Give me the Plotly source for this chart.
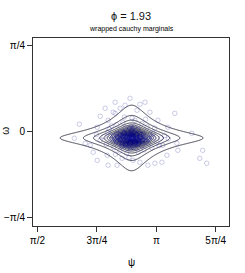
import numpy as np
import plotly.graph_objects as go

# ---- data ----
title_text = "ϕ = 1.93"
subtitle_text = "wrapped cauchy marginals"
x_title = "ψ"
y_title = "ω"

x_tick_vals = [np.pi/2, 3*np.pi/4, np.pi, 5*np.pi/4]
x_tick_text = ["π/2", "3π/4", "π", "5π/4"]
y_tick_vals = [-np.pi/4, 0, np.pi/4]
y_tick_text = ["−π/4", "0", "π/4"]

# density model parameters (wrapped Cauchy marginals)
mu_psi, rho_psi = 2.815, 0.815
mu_omega, rho_omega = -0.061, 0.935
n_levels = 20.7

core_psi = [
    2.81, 2.79, 2.84, 2.77, 2.86, 2.82, 2.75, 2.88, 2.80, 2.83,
    2.71, 2.90, 2.78, 2.85, 2.69, 2.93, 2.74, 2.87, 2.82, 2.79,
    2.66, 2.96, 2.72, 2.89, 2.80, 2.84, 2.63, 2.99, 2.76, 2.86,
    2.81, 2.78, 2.83, 2.70, 2.92, 2.60, 3.02, 2.73, 2.88, 2.81,
    2.77, 2.85, 2.68, 2.95, 2.57, 3.05, 2.80, 2.82, 2.74, 2.90,
    2.83, 2.76, 2.87, 2.79, 2.64, 2.97, 2.71, 2.91, 2.55, 3.08,
    2.81, 2.84, 2.78, 2.86, 2.75, 2.88, 2.67, 2.94, 2.62, 3.00,
    2.80, 2.83, 2.77, 2.85, 2.73, 2.89, 2.69, 2.92, 2.58, 3.03,
    2.61, 2.65, 2.70, 2.74, 2.79, 2.84, 2.88, 2.93, 2.97, 3.01,
    2.59, 2.64, 2.68, 2.73, 2.78, 2.82, 2.87, 2.91, 2.96, 3.04,
    2.62, 2.67, 2.72, 2.76, 2.81, 2.86, 2.90, 2.95, 2.99, 3.06,
    2.53, 2.57, 2.66, 2.71, 2.77, 2.83, 2.89, 2.94, 3.03, 3.10,
    2.64, 2.69, 2.75, 2.80, 2.85, 2.91, 2.96, 2.72, 2.87, 2.79,
    2.68, 2.74, 2.80, 2.86, 2.92, 2.77, 2.83, 2.70, 2.89, 2.81,
    2.63, 2.67, 2.71, 2.74, 2.78, 2.81, 2.84, 2.88, 2.91, 2.95,
    2.65, 2.69, 2.73, 2.76, 2.80, 2.83, 2.87, 2.90, 2.94, 2.98,
    2.62, 2.66, 2.70, 2.75, 2.79, 2.82, 2.85, 2.89, 2.93, 2.97,
    2.68, 2.72, 2.76, 2.79, 2.82, 2.85, 2.88, 2.92, 2.71, 2.86,
    2.61, 2.69, 2.77, 2.80, 2.84, 2.90, 2.96, 2.74, 2.83, 2.78,
    2.66, 2.73, 2.79, 2.81, 2.87, 2.93, 2.75, 2.82, 2.70, 2.88]
core_omega = [
    -0.06, -0.05, -0.07, -0.04, -0.08, -0.03, -0.06, -0.05, -0.09, -0.02,
    -0.06, -0.07, -0.08, -0.04, -0.05, -0.06, -0.02, -0.10, -0.06, -0.07,
    -0.04, -0.08, -0.09, -0.03, -0.11, -0.01, -0.06, -0.05, -0.12, -0.10,
    0.00, -0.03, -0.13, -0.08, -0.02, -0.07, -0.06, -0.11, -0.12, -0.04,
    -0.01, -0.09, -0.10, -0.09, -0.05, -0.07, -0.14, 0.01, -0.04, -0.11,
    -0.06, -0.08, -0.05, -0.10, -0.08, -0.04, -0.02, -0.08, -0.07, -0.05,
    -0.07, -0.06, -0.05, -0.07, -0.09, -0.06, -0.06, -0.03, -0.09, -0.10,
    -0.08, -0.04, -0.07, -0.09, -0.05, -0.08, -0.12, -0.05, -0.04, -0.08,
    -0.03, -0.11, -0.01, -0.13, 0.02, -0.15, 0.01, -0.12, -0.02, -0.09,
    -0.07, -0.02, -0.13, 0.03, -0.14, 0.02, -0.15, 0.00, -0.11, -0.06,
    -0.10, 0.00, -0.04, -0.15, 0.04, -0.13, 0.02, -0.13, -0.08, -0.03,
    -0.04, -0.09, -0.07, -0.03, -0.10, 0.03, -0.08, -0.03, -0.11, -0.06,
    -0.05, -0.14, 0.01, -0.16, 0.04, -0.09, -0.06, -0.01, -0.03, 0.03,
    -0.08, -0.12, -0.02, -0.11, -0.10, -0.08, -0.09, -0.05, -0.07, -0.04,
    -0.05, -0.08, -0.03, -0.10, -0.06, -0.02, -0.09, -0.04, -0.11, -0.07,
    -0.10, -0.04, -0.12, -0.06, -0.03, -0.10, -0.07, -0.12, -0.05, -0.08,
    -0.02, -0.06, -0.11, -0.08, -0.12, -0.05, -0.01, -0.06, -0.09, -0.03,
    -0.07, -0.02, -0.09, -0.05, -0.08, -0.11, -0.03, -0.07, -0.13, -0.12,
    -0.09, -0.11, -0.02, -0.10, -0.04, -0.09, -0.08, -0.06, -0.07, -0.13,
    -0.03, -0.08, -0.11, -0.05, -0.02, -0.05, -0.04, -0.10, -0.06, -0.09]

mid_psi = [2.45, 2.52, 2.58, 3.10, 3.15, 3.20, 2.40, 2.48, 3.12, 3.25,
           2.62, 2.70, 2.95, 3.02, 2.66, 2.98, 2.75, 2.90, 2.55, 3.08,
           2.35, 3.30, 2.50, 3.18, 2.82, 2.78, 2.86, 2.60, 3.00, 2.72]
mid_omega = [-0.05, 0.02, -0.15, -0.02, -0.10, -0.06, -0.08, -0.12, 0.03, -0.04,
             0.06, 0.08, 0.07, 0.04, -0.18, -0.17, -0.20, -0.19, 0.05, -0.15,
             -0.03, -0.07, -0.01, -0.13, 0.12, -0.24, 0.10, -0.21, 0.11, 0.13]

outer_psi = [2.465, 2.400, 2.505, 2.360, 2.123, 2.058, 2.268, 2.307, 2.360, 2.492,
             2.505, 2.623, 2.794, 2.886, 2.663, 2.597, 2.992, 3.057, 3.163, 3.386,
             3.294, 3.413, 3.426, 3.281, 3.215, 3.123, 3.031, 3.754, 3.715, 3.807,
             3.610, 3.228, 2.571, 2.202, 2.597, 2.728, 2.925, 2.834, 2.689, 2.925]
outer_omega = [0.210, 0.137, 0.100, 0.037, 0.064, -0.064, -0.128, -0.192, -0.265, -0.219,
               -0.310, -0.310, 0.301, 0.192, 0.210, 0.164, 0.265, 0.174, 0.100, 0.164,
               0.037, -0.110, -0.174, -0.219, -0.283, -0.292, -0.310, -0.174, -0.247, -0.292,
               -0.018, -0.128, 0.174, -0.110, 0.265, 0.237, 0.247, -0.265, -0.247, -0.283]

x_range = [1.5116, 4.102]
y_range = [-0.865, 0.852]

# ---- density grid ----
def wcauchy(t, mu, rho):
    return (1 - rho**2) / (2*np.pi*(1 + rho**2 - 2*rho*np.cos(t - mu)))

gx = np.linspace(x_range[0], x_range[1], 400)
gy = np.linspace(y_range[0], y_range[1], 400)
X, Y = np.meshgrid(gx, gy)
Z = wcauchy(X, mu_psi, rho_psi) * wcauchy(Y, mu_omega, rho_omega)
zmax = Z.max()
lvl = zmax / n_levels

fig = go.Figure()

pts_psi = core_psi + mid_psi + outer_psi
pts_omega = core_omega + mid_omega + outer_omega
fig.add_trace(go.Scatter(
    x=pts_psi, y=pts_omega, mode="markers",
    marker=dict(symbol="circle-open", size=4.5,
                line=dict(color="rgba(0,0,139,0.2)", width=1),
                color="rgba(0,0,139,0.2)"),
    showlegend=False, hoverinfo="skip"))

fig.add_trace(go.Contour(
    x=gx, y=gy, z=Z,
    contours=dict(coloring="lines", start=lvl, end=zmax, size=lvl, showlabels=False),
    colorscale=[[0, "#2b2b3b"], [1, "#2b2b3b"]],
    line=dict(width=0.9), showscale=False, hoverinfo="skip"))

ML, MR, MT, MB = 32.5, 16, 37.7, 47.3
W, H = 245, 273
plot_w = W - ML - MR
plot_h = H - MT - MB

font_family = "Liberation Sans, Arial, sans-serif"
fig.update_layout(
    width=W, height=H,
    margin=dict(l=ML, r=MR, t=MT, b=MB, autoexpand=False),
    paper_bgcolor="white", plot_bgcolor="white",
    font=dict(family=font_family, size=10, color="black"),
    showlegend=False,
    xaxis=dict(range=x_range, tickvals=x_tick_vals, ticktext=x_tick_text,
               ticks="outside", ticklen=5, tickwidth=1, tickcolor="#333",
               showgrid=False, zeroline=False, showline=True, linecolor="#333",
               linewidth=1, mirror=True, tickfont=dict(size=10, color="black"),
               automargin=False),
    yaxis=dict(range=y_range, tickvals=y_tick_vals, ticktext=y_tick_text,
               ticks="outside", ticklen=5, tickwidth=1, tickcolor="#333",
               showgrid=False, zeroline=False, showline=True, linecolor="#333",
               linewidth=1, mirror=True, tickfont=dict(size=10, color="black"),
               automargin=False),
    annotations=[
        dict(text=title_text, x=0.5, xref="paper", yref="paper",
             y=1 + (MT - 15.7) / plot_h, yanchor="middle",
             showarrow=False, font=dict(size=11, color="#111")),
        dict(text=subtitle_text, x=0.5, xref="paper", yref="paper",
             y=1 + (MT - 29) / plot_h, yanchor="middle",
             showarrow=False, font=dict(size=7, color="black")),
        dict(text=x_title, x=0.5, xref="paper", yref="paper",
             y=-(262 - (H - MB)) / plot_h, yanchor="middle",
             showarrow=False, font=dict(size=10, color="black")),
        dict(text=y_title, x=-(ML - 5) / plot_w, xref="paper", yref="paper",
             y=0.5 - (131 - (MT + plot_h / 2)) / plot_h, xanchor="center", yanchor="middle",
             textangle=-90, showarrow=False, font=dict(size=10, color="black")),
    ],
)

fig.write_html("out.html", config={"displayModeBar": False},
               post_script="document.body.style.margin='0px';document.body.style.overflow='hidden';")
